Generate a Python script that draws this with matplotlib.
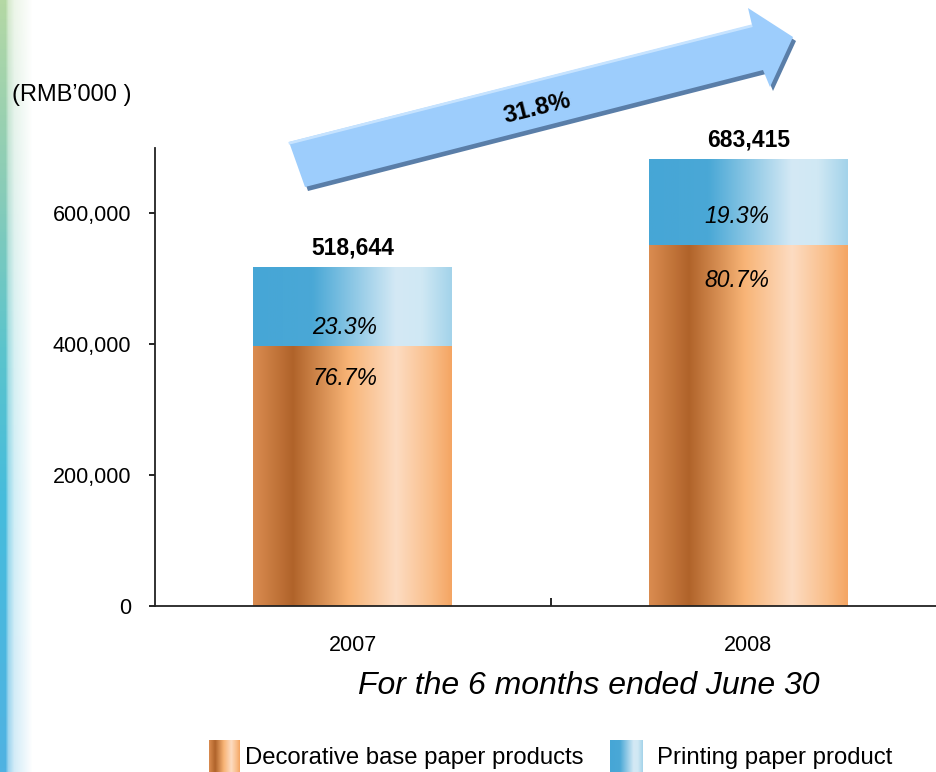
import numpy as np
import matplotlib
matplotlib.use('Agg')
import matplotlib.pyplot as plt
from matplotlib.colors import LinearSegmentedColormap
from matplotlib.patches import Polygon
from matplotlib.ticker import FuncFormatter

# data
years = ['2007', '2008']
totals = [518644, 683415]
decorative_pct = [76.7, 80.7]
printing_pct = [23.3, 19.3]
growth_label = '31.8%'
legend_labels = ['Decorative base paper products', 'Printing paper product']

decorative = [t * p / 100 for t, p in zip(totals, decorative_pct)]
printing = [t - d for t, d in zip(totals, decorative)]

plt.rcParams['font.family'] = ['Liberation Sans', 'DejaVu Sans']

orange = LinearSegmentedColormap.from_list('orange', [
    (0, '#da8c50'), (0.2, '#b0632a'), (0.48, '#f8b476'),
    (0.72, '#fddcc2'), (0.9, '#f9bd88'), (1, '#f4a563')])
blue = LinearSegmentedColormap.from_list('blue', [
    (0, '#46a6d6'), (0.3, '#4aa8d6'), (0.72, '#d4e9f5'),
    (0.85, '#d0e8f4'), (1, '#a3d3ea')])
grad = np.linspace(0, 1, 256)[None, :]

fig = plt.figure(figsize=(9.36, 7.72), dpi=100)

# coloured strip on the left edge
bg = fig.add_axes([0, 0, 1, 1], zorder=0)
h, w = 772, 40
strip = LinearSegmentedColormap.from_list('strip', [
    (0, '#b4d8a4'), (0.25, '#88ccb8'), (0.45, '#5cc4cc'),
    (0.65, '#46bcdc'), (1, '#50b2e2')])
img = np.ones((h, w, 4))
img[:, :, :3] = strip(np.linspace(0, 1, h))[:, None, :3]
img[:, :, 3] = np.interp(np.arange(w), [0, 5, 8, 14, 32], [1, 1, 0.55, 0.25, 0])[None, :]
bg.imshow(img, extent=(0, w, h, 0), aspect='auto')
bg.set_xlim(0, 936)
bg.set_ylim(772, 0)
bg.axis('off')

# main chart
ax = fig.add_axes([155 / 936, 166 / 772, 791 / 936, 458 / 772], zorder=1)
ax.patch.set_alpha(0)
x = np.arange(len(years))
bw = 0.503
bars_d = ax.bar(x, decorative, bw, color='none', edgecolor='none')
bars_p = ax.bar(x, printing, bw, bottom=decorative, color='none', edgecolor='none')
for rects, cmap in ((bars_d, orange), (bars_p, blue)):
    for r in rects:
        x0, y0 = r.get_x(), r.get_y()
        im = ax.imshow(grad, cmap=cmap, aspect='auto', zorder=2,
                       extent=(x0, x0 + r.get_width(), y0, y0 + r.get_height()))
        im.set_clip_path(r)

ax.set_xlim(-0.5, 1.5)
ax.set_ylim(0, 700000)

for i in x:
    ax.annotate(f'{totals[i]:,}', (i, totals[i]), xytext=(0, 19),
                textcoords='offset pixels', ha='center', va='center',
                fontsize=16.5, fontweight='bold', zorder=4)

# label offsets (pixels) inside the stacked bars
top_dy = [18, 29]
bot_dy = [-33, -35]
dx = [-8, -11]
for i in x:
    ax.annotate(f'{printing_pct[i]}%', (i, decorative[i]), xytext=(dx[i], top_dy[i]),
                textcoords='offset pixels', ha='center', va='center',
                fontsize=16.5, fontstyle='italic', zorder=4)
    ax.annotate(f'{decorative_pct[i]}%', (i, decorative[i]), xytext=(dx[i], bot_dy[i]),
                textcoords='offset pixels', ha='center', va='center',
                fontsize=16.5, fontstyle='italic', zorder=4)

ax.set_yticks([0, 200000, 400000, 600000])
ax.yaxis.set_major_formatter(FuncFormatter(lambda v, p: f'{int(v):,}'))
ax.tick_params(axis='y', direction='out', length=4.3, width=1.2, pad=13, labelsize=15.5)
ax.set_xticks(x)
ax.set_xticklabels(years)
ax.tick_params(axis='x', which='major', length=0, pad=21, labelsize=15.5)
ax.set_xticks([0.5], minor=True)
ax.tick_params(axis='x', which='minor', direction='in', length=6, width=1.2)
for s in ('top', 'right'):
    ax.spines[s].set_visible(False)
for s in ('left', 'bottom'):
    ax.spines[s].set_color('#222222')
    ax.spines[s].set_linewidth(1.3)

# overlay: arrow, captions, legend (pixel coordinates)
fg = fig.add_axes([0, 0, 1, 1], zorder=3)
fg.patch.set_alpha(0)
arrow = [(289, 142), (752, 25), (748, 8), (793, 37), (770, 87), (763, 70), (305, 187)]
fg.add_patch(Polygon([(px + 3, py + 4) for px, py in arrow], closed=True,
                     facecolor='#5a7ea8', edgecolor='none'))
fg.add_patch(Polygon(arrow, closed=True, facecolor='#9dcdfc', edgecolor='none'))
fg.plot([290, 751], [143, 26], color='#c6e3ff', lw=2)
fg.text(537, 108, growth_label, rotation=14, ha='center', va='center',
        fontsize=17.5, fontweight='bold', rotation_mode='anchor')

fg.text(12, 95, '(RMB\u2019000 )', ha='left', va='center', fontsize=17)
fg.text(589, 686, 'For the 6 months ended June 30', ha='center', va='center',
        fontsize=23, fontstyle='italic')

fg.imshow(grad, cmap=orange, aspect='auto', extent=(209, 240, 772, 740))
fg.imshow(grad, cmap=blue, aspect='auto', extent=(610, 643, 772, 740))
fg.text(245, 758, legend_labels[0], ha='left', va='center', fontsize=17.2)
fg.text(657, 758, legend_labels[1], ha='left', va='center', fontsize=17.2)

fg.set_xlim(0, 936)
fg.set_ylim(772, 0)
fg.axis('off')

fig.savefig('out.png', dpi=100)
